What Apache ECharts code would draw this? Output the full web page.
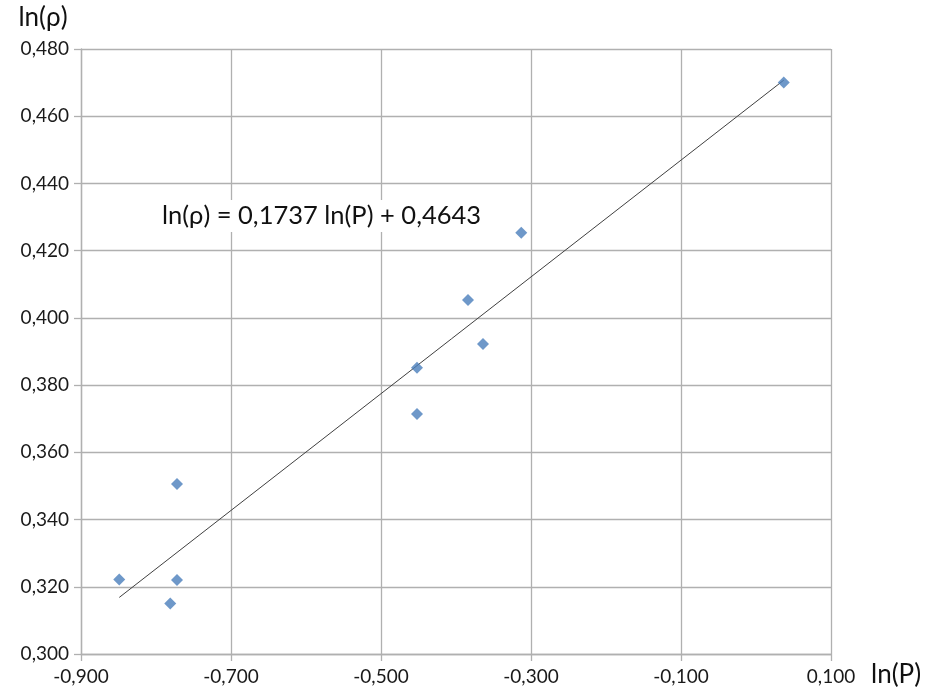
<!DOCTYPE html>
<html><head><meta charset="utf-8">
<script src="https://cdn.jsdelivr.net/npm/echarts@6/dist/echarts.min.js"></script>
<style>html,body{margin:0;padding:0;background:#fff}#c{width:928px;height:697px}</style>
</head><body><div id="c"></div>
<script>
var lnP   = [-0.849, -0.772, -0.781, -0.772, -0.452, -0.452, -0.384, -0.364, -0.313, 0.037];
var lnRho = [0.3222, 0.3220, 0.3150, 0.3506, 0.3852, 0.3714, 0.4053, 0.3922, 0.4253, 0.4700];
var trendSlope = 0.1737;
var trendIntercept = 0.4643;
var trendLabel = 'ln(\u03c1) = 0,1737 ln(P) + 0,4643';
var xAxisName = 'ln(P)';
var yAxisName = 'ln(\u03c1)';

var pts = lnP.map(function(x,i){return [x, lnRho[i]];});
var xmin = Math.min.apply(null, lnP), xmax = Math.max.apply(null, lnP);
var trend = [[xmin, trendSlope*xmin+trendIntercept],[xmax, trendSlope*xmax+trendIntercept]];
function fmt(v){ return v.toFixed(3).replace('.', ','); }
var FONT = 'Lato';
var chart = echarts.init(document.getElementById('c'));
chart.setOption({
  animation:false,
  backgroundColor:'#fff',
  textStyle:{fontFamily:FONT},
  grid:{left:81,right:97,top:49,bottom:43},
  xAxis:{type:'value',min:-0.9,max:0.1,interval:0.2,
    axisLine:{onZero:false,lineStyle:{color:'#b0b0b0',width:1.3}},
    axisTick:{show:true,length:7,lineStyle:{color:'#b0b0b0',width:1.3}},
    axisLabel:{formatter:fmt,color:'#1a1a1a',fontSize:19,fontFamily:FONT,margin:13},
    splitLine:{show:true,lineStyle:{color:'#b0b0b0',width:1.3}},
    name:xAxisName,nameLocation:'end',nameGap:40,
    nameTextStyle:{fontSize:26,color:'#111',fontFamily:FONT,verticalAlign:'top',padding:[8,0,0,0]}},
  yAxis:{type:'value',min:0.3,max:0.48,interval:0.02,
    axisLine:{show:true,onZero:false,lineStyle:{color:'#b0b0b0',width:1.3}},
    axisTick:{show:true,length:7,lineStyle:{color:'#b0b0b0',width:1.3}},
    axisLabel:{formatter:fmt,color:'#1a1a1a',fontSize:19,fontFamily:FONT,margin:12},
    splitLine:{show:true,lineStyle:{color:'#b0b0b0',width:1.3}},
    name:yAxisName,nameLocation:'end',nameGap:18,
    nameTextStyle:{fontSize:26,color:'#111',fontFamily:FONT,align:'center',padding:[0,76,0,0]}},
  graphic:[{type:'text',left:158,top:200,z:10,style:{text:trendLabel,fontSize:25.5,fill:'#111',fontFamily:FONT,
    backgroundColor:'#fff',padding:[3,4,3,4]}}],
  series:[
    {type:'line',data:trend,symbol:'none',lineStyle:{color:'#404040',width:1},z:3},
    {type:'scatter',data:pts,symbol:'diamond',symbolSize:12,itemStyle:{color:'#4a7ebb'},z:4}
  ]
});
</script></body></html>
